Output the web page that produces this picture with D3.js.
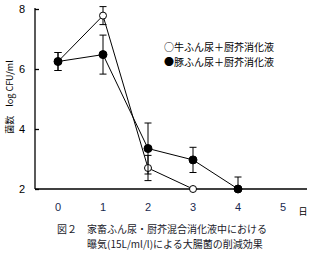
<!DOCTYPE html>
<html>
<head>
<meta charset="utf-8">
<script src="https://cdn.jsdelivr.net/npm/d3@7"></script>
<style>
body { margin: 0; background: #fff; }
svg text { font-family: "Noto Sans CJK JP", sans-serif; }
</style>
</head>
<body>
<div id="chart"></div>
<script>
var width = 311, height = 280;

// data
var cowDays = [0, 1, 2, 3];
var cowValues = [6.25, 7.78, 2.7, 2.0];
var cowErrors = [0.3, 0.3, 0.42, 0];

var pigDays = [0, 1, 2, 3, 4];
var pigValues = [6.25, 6.48, 3.35, 2.97, 2.0];
var pigErrors = [0.3, 0.65, 0.85, 0.42, 0.4];

var xTicks = [0, 1, 2, 3, 4, 5];
var yTicks = [2, 4, 6, 8];

var svg = d3.select("#chart").append("svg")
    .attr("width", width)
    .attr("height", height);

var x = d3.scaleLinear().domain([0, 5]).range([58, 283]);
var y = d3.scaleLinear().domain([2, 8]).range([189, 9]);

var axisLeft = 35, axisRight = 307;

// clip so error bars don't go under the x axis
svg.append("clipPath").attr("id", "plot")
    .append("rect")
    .attr("x", axisLeft).attr("y", 0)
    .attr("width", axisRight - axisLeft).attr("height", y(2) + 0.5);

// y axis (ticks point inward)
var yAxis = svg.append("g")
    .attr("transform", "translate(" + axisLeft + ",0)")
    .call(d3.axisRight(y).tickValues(yTicks).tickSize(4).tickFormat(""));
yAxis.select(".domain").attr("d", "M0," + (y(8) - 1) + "V" + y(2));
yAxis.selectAll("line, path").attr("stroke", "#000").attr("stroke-width", 1.3);

svg.selectAll(".ylab")
    .data(yTicks)
    .join("text")
    .attr("class", "ylab")
    .attr("x", 25)
    .attr("y", function(d) { return y(d) + 4; })
    .attr("text-anchor", "end")
    .style("font-family", "Liberation Sans, Arial, sans-serif")
    .style("font-size", "11px")
    .text(function(d) { return d; });

// x axis line, no ticks
svg.append("line")
    .attr("x1", axisLeft).attr("x2", axisRight)
    .attr("y1", y(2)).attr("y2", y(2))
    .attr("stroke", "#000").attr("stroke-width", 1.3);

svg.selectAll(".xlab")
    .data(xTicks)
    .join("text")
    .attr("class", "xlab")
    .attr("x", function(d) { return x(d); })
    .attr("y", 211)
    .attr("text-anchor", "middle")
    .style("font-family", "Liberation Sans, Arial, sans-serif")
    .style("font-size", "11px")
    .attr("fill", "#1a2a50")
    .text(function(d) { return d; });

svg.append("text")
    .attr("x", 303).attr("y", 215)
    .attr("text-anchor", "middle")
    .style("font-size", "9px")
    .text("日");

// y label
svg.append("text")
    .attr("transform", "translate(13,97) rotate(-90)")
    .attr("text-anchor", "middle")
    .style("font-size", "9px")
    .text("菌数　log CFU/ml");

function drawSeries(days, values, errors, fill, r) {
    var pts = days.map(function(d, i) { return { day: d, v: values[i], e: errors[i] }; });
    var g = svg.append("g").attr("clip-path", "url(#plot)");

    var line = d3.line()
        .x(function(d) { return x(d.day); })
        .y(function(d) { return y(d.v); });

    g.append("path")
        .datum(pts)
        .attr("d", line)
        .attr("fill", "none")
        .attr("stroke", "#000")
        .attr("stroke-width", 1);

    var bars = pts.filter(function(d) { return d.e > 0; });
    g.selectAll(null).data(bars).join("line")
        .attr("x1", function(d) { return x(d.day); })
        .attr("x2", function(d) { return x(d.day); })
        .attr("y1", function(d) { return y(d.v + d.e); })
        .attr("y2", function(d) { return y(d.v - d.e); })
        .attr("stroke", "#000");
    g.selectAll(null).data(bars).join("line")
        .attr("x1", function(d) { return x(d.day) - 3.5; })
        .attr("x2", function(d) { return x(d.day) + 3.5; })
        .attr("y1", function(d) { return y(d.v + d.e); })
        .attr("y2", function(d) { return y(d.v + d.e); })
        .attr("stroke", "#000");
    g.selectAll(null).data(bars).join("line")
        .attr("x1", function(d) { return x(d.day) - 3.5; })
        .attr("x2", function(d) { return x(d.day) + 3.5; })
        .attr("y1", function(d) { return y(d.v - d.e); })
        .attr("y2", function(d) { return y(d.v - d.e); })
        .attr("stroke", "#000");

    svg.selectAll(null).data(pts).join("circle")
        .attr("cx", function(d) { return x(d.day); })
        .attr("cy", function(d) { return y(d.v); })
        .attr("r", r)
        .attr("fill", fill)
        .attr("stroke", "#000")
        .attr("stroke-width", 1);
}

drawSeries(cowDays, cowValues, cowErrors, "#fff", 3.5);
drawSeries(pigDays, pigValues, pigErrors, "#000", 4);

// legend
var legend = ["○牛ふん尿＋厨芥消化液", "●豚ふん尿＋厨芥消化液"];
svg.selectAll(".leg")
    .data(legend)
    .join("text")
    .attr("class", "leg")
    .attr("x", 164)
    .attr("y", function(d, i) { return 51 + i * 14.5; })
    .style("font-size", "10px")
    .text(function(d) { return d; });

// caption
var caption = ["図２　家畜ふん尿・厨芥混合消化液中における", "曝気(15L/ml/l)による大腸菌の削減効果"];
svg.selectAll(".cap")
    .data(caption)
    .join("text")
    .attr("class", "cap")
    .attr("x", function(d, i) { return i === 0 ? 57 : 87; })
    .attr("y", function(d, i) { return 233 + i * 14.5; })
    .style("font-size", "10px")
    .attr("fill", "#1a1a2a")
    .text(function(d) { return d; });
</script>
</body>
</html>
